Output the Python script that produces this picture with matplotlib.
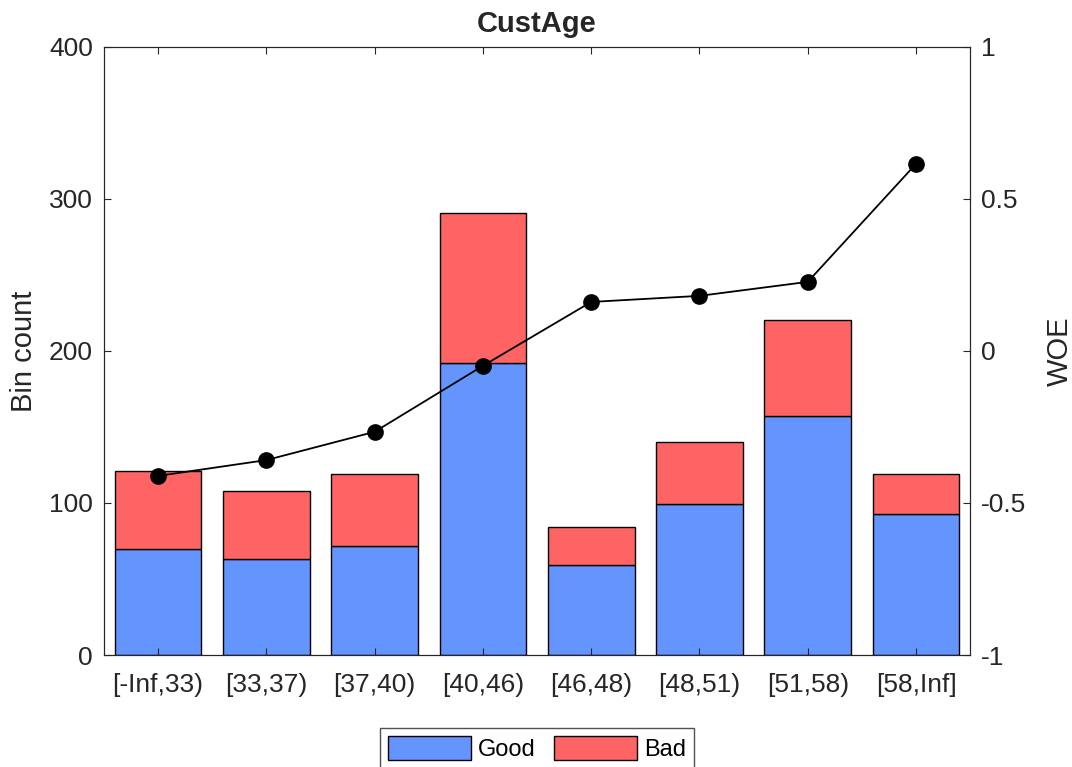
import matplotlib.pyplot as plt
import numpy as np

plt.rcParams['font.family'] = ['Liberation Sans', 'DejaVu Sans']

# bins and counts
bins = ['[-Inf,33)', '[33,37)', '[37,40)', '[40,46)', '[46,48)', '[48,51)', '[51,58)', '[58,Inf]']
good = [70, 63, 72, 192, 59, 99, 157, 93]
bad = [51, 45, 47, 99, 25, 41, 63, 26]
woe = [-0.411, -0.359, -0.266, -0.049, 0.161, 0.181, 0.227, 0.615]

blue = '#6495ff'
red = '#ff6464'
txt = '#262626'

fig = plt.figure(figsize=(10.72, 7.67), dpi=100)
ax = fig.add_axes([0.097, 0.146, 0.808, 0.793])
x = np.arange(len(bins))

b1 = ax.bar(x, good, width=0.8, color=blue, edgecolor='black', linewidth=1, label='Good')
b2 = ax.bar(x, bad, width=0.8, bottom=good, color=red, edgecolor='black', linewidth=1, label='Bad')
ax.set_xlim(-0.5, len(bins) - 0.5)
ax.set_ylim(0, 400)
ax.set_yticks([0, 100, 200, 300, 400])
ax.set_xticks(x)
ax.set_xticklabels(bins)
ax.tick_params(axis='x', direction='in', top=True, labelsize=19, colors=txt, length=5, pad=13)
ax.tick_params(axis='y', direction='in', labelsize=19, colors=txt, length=5, pad=8)
ax.set_ylabel('Bin count', fontsize=21, color=txt, labelpad=8)
ax.set_title('CustAge', fontsize=21, fontweight='bold', color=txt, pad=11)
for s in ax.spines.values():
    s.set_color(txt)

ax2 = ax.twinx()
ax2.plot(x, woe, color='black', linewidth=1.3, marker='o', markersize=11)
ax2.set_ylim(-1, 1)
ax2.set_yticks([-1, -0.5, 0, 0.5, 1])
ax2.set_yticklabels(['-1', '-0.5', '0', '0.5', '1'])
ax2.tick_params(axis='y', direction='in', labelsize=19, colors=txt, length=5, pad=8)
ax2.set_ylabel('WOE', fontsize=21, color=txt, labelpad=14)
for s in ax2.spines.values():
    s.set_color(txt)

fig.legend(handles=[b1, b2], labels=['Good', 'Bad'], loc='upper center',
           bbox_to_anchor=(0.501, 0.051), ncol=2, fontsize=17, frameon=True,
           fancybox=False, edgecolor=txt, handlelength=3.5, handleheight=1.2,
           handletextpad=0.3, columnspacing=0.8, borderpad=0.35, borderaxespad=0)

fig.savefig('out.png', dpi=100)
